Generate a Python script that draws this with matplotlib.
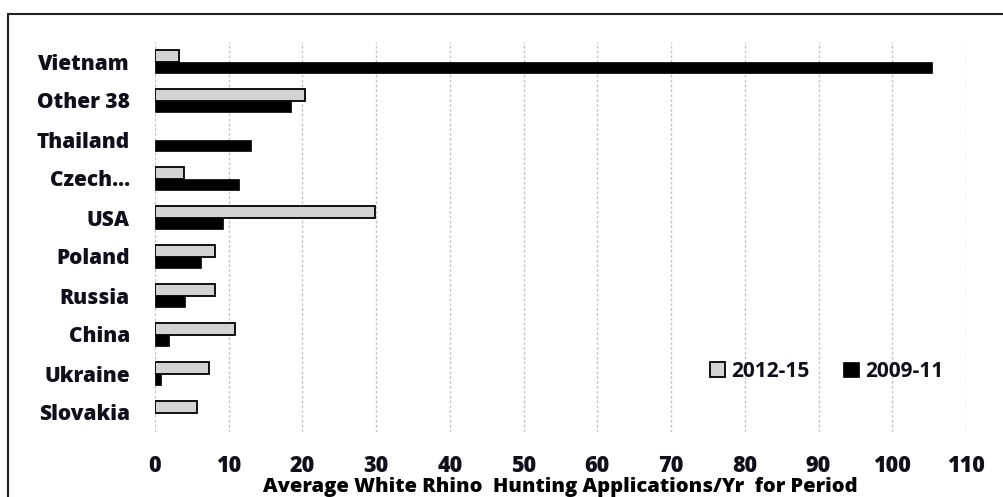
import matplotlib
matplotlib.use("Agg")
import numpy as np
from matplotlib import pyplot as plt
from matplotlib.patches import Rectangle

countries = ["Vietnam", "Other 38", "Thailand", "Czech...", "USA",
             "Poland", "Russia", "China", "Ukraine", "Slovakia"]
recent = [3.3, 20.3, 0.0, 4.0, 29.9, 8.1, 8.1, 10.9, 7.3, 5.7]      # 2012-15
earlier = [105.4, 18.5, 13.0, 11.4, 9.2, 6.2, 4.1, 1.9, 0.8, 0.0]  # 2009-11
xticks = list(range(0, 111, 10))

plt.rcParams['font.family'] = ['Open Sans', 'DejaVu Sans']
plt.rcParams['font.weight'] = 'bold'
plt.rcParams['text.color'] = '#10101c'
plt.rcParams['xtick.color'] = '#10101c'
plt.rcParams['ytick.color'] = '#10101c'

fig = plt.figure(figsize=(10.04, 4.97), dpi=100)
ax = fig.add_axes([155/1004, 1-432/497, 811/1004, 390/497])

# outer frame of the chart
fig.patches.append(Rectangle((8/1004, -0.2), 1.2, 1-14/497+0.2,
                             transform=fig.transFigure, fill=False,
                             edgecolor="#222222", linewidth=1.5))

y = np.arange(len(countries))
h = 0.29
lw_recent = [1.3 if v > 0 else 0 for v in recent]
lw_earlier = [0.5 if v > 0 else 0 for v in earlier]
ax.barh(y - h/2, recent, height=h, color="#d3d3d3", edgecolor="black",
        linewidth=lw_recent, label="2012-15")
ax.barh(y + h/2, earlier, height=h, color="black", edgecolor="black",
        linewidth=lw_earlier, label="2009-11")

ax.set_ylim(len(countries) - 0.5, -0.5)
ax.set_xlim(0, 110)
ax.set_yticks(y)
ax.set_yticklabels(countries, fontsize=15, fontweight='heavy')
ax.set_xticks(xticks)
ax.set_xticklabels([str(t) for t in xticks], fontsize=15.5, fontweight='heavy')
ax.tick_params(axis='both', length=0)
ax.tick_params(axis='y', pad=18)
ax.tick_params(axis='x', pad=16)
for s in ax.spines.values():
    s.set_visible(False)
ax.set_axisbelow(True)
ax.grid(axis='x', color="#c4c4c4", linestyle=(0, (2, 1.5)), linewidth=1.0)

ax.set_xlabel("Average White Rhino  Hunting Applications/Yr  for Period",
              fontsize=14.5, fontweight='heavy', labelpad=-1)

leg = ax.legend(loc="center", bbox_to_anchor=(0.828, 0.155), ncol=2, frameon=False,
                fontsize=15, handlelength=0.75, handleheight=0.75, handletextpad=0.3,
                columnspacing=1.6)

plt.savefig("out.png", dpi=100)
